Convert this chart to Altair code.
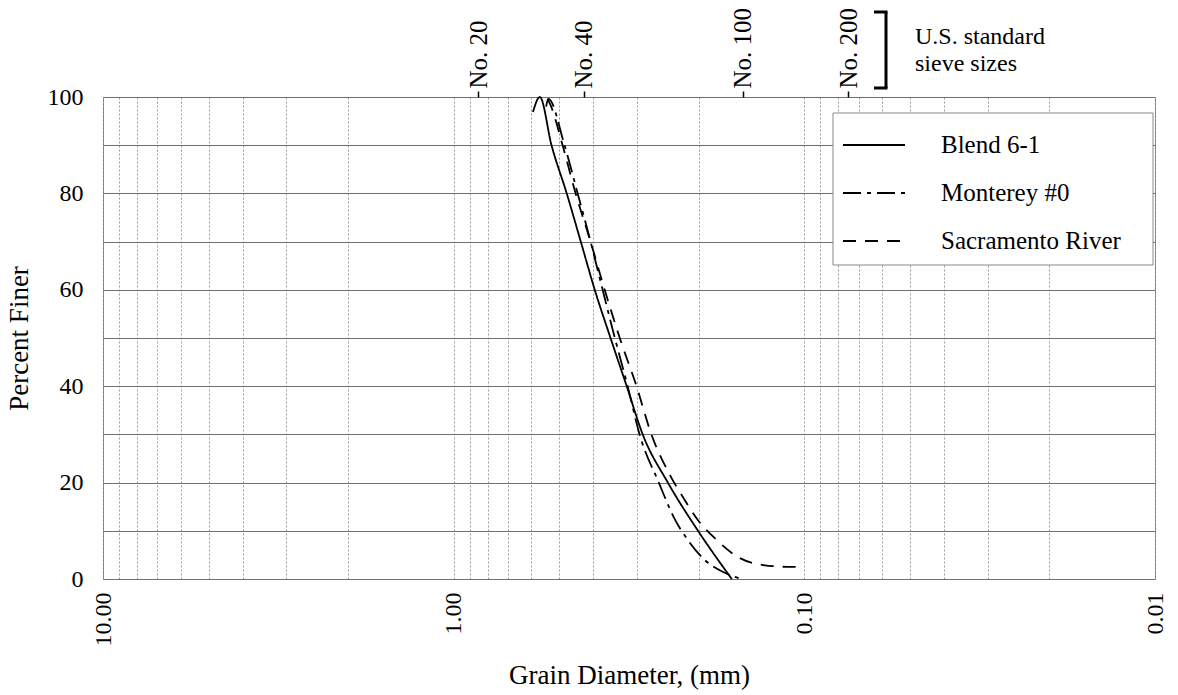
import altair as alt
import pandas as pd

# ---- data ----
series_names = ["Blend 6-1", "Monterey #0", "Sacramento River"]

blend_d = [0.594, 0.568, 0.526, 0.476, 0.434, 0.396, 0.357, 0.321, 0.289, 0.245, 0.201, 0.161]
blend_p = [96.9, 100, 90, 80, 70, 60, 50, 40, 30, 20, 10, 0]

monterey_d = [0.545, 0.537, 0.483, 0.443, 0.407, 0.376, 0.347, 0.319, 0.295, 0.260, 0.236, 0.215, 0.192, 0.171, 0.151]
monterey_p = [98.0, 99.6, 90, 80, 70, 60, 50, 40, 30, 20, 12.9, 8.1, 3.9, 1.5, 0]

sac_d = [0.540, 0.530, 0.489, 0.449, 0.407, 0.371, 0.336, 0.301, 0.273, 0.241, 0.222, 0.201, 0.179, 0.155, 0.131, 0.109, 0.104]
sac_p = [99.6, 98.4, 90, 80, 70, 60, 50, 40, 30, 21.4, 17, 12.2, 8.3, 4.6, 2.9, 2.5, 2.5]

grid_x = [10, 9, 8, 7, 6, 5, 4, 3, 2,
          1, 0.9, 0.8, 0.7, 0.6, 0.5, 0.4, 0.3, 0.2,
          0.1, 0.09, 0.08, 0.07, 0.06, 0.05, 0.04, 0.03, 0.02, 0.01]
grid_y = [0, 10, 20, 30, 40, 50, 60, 70, 80, 90, 100]

sieve_sizes = [0.85, 0.425, 0.15, 0.075]
sieve_names = ["No. 20", "No. 40", "No. 100", "No. 200"]
note_text = ["U.S. standard", "sieve sizes"]

FONT = "Liberation Serif"

rows = []
for name, ds, ps in zip(series_names, [blend_d, monterey_d, sac_d], [blend_p, monterey_p, sac_p]):
    for i, (d, p) in enumerate(zip(ds, ps)):
        rows.append({"series": name, "d": d, "p": p, "i": i})
df = pd.DataFrame(rows)

xscale = alt.Scale(type="log", domain=[0.01, 10], reverse=True)
yscale = alt.Scale(domain=[0, 100])

decade_expr = ("abs(log(datum.value)/LN10 - round(log(datum.value)/LN10)) < 0.001"
               " ? format(datum.value, '.2f') : ''")

sieve_expr = ""
for v, n in zip(sieve_sizes, sieve_names):
    sieve_expr += f"abs(datum.value - {v}) < 1e-6 ? '{n}' : "
sieve_expr += "''"

one = pd.DataFrame({"k": [0]})

legend_box = alt.Chart(one).mark_rect(fill="white", stroke="#888888", strokeWidth=1).encode(
    x=alt.value(730), x2=alt.value(1050), y=alt.value(16), y2=alt.value(168))

lines = alt.Chart(df).mark_line(color="black", strokeWidth=1.8, interpolate="monotone").encode(
    x=alt.X("d:Q", scale=xscale,
            axis=alt.Axis(values=grid_x, labelExpr=decade_expr, title="Grain Diameter, (mm)",
                          labelAngle=-90, grid=True, gridColor="#9a9a9a", gridDash=[2, 2],
                          gridWidth=1, ticks=False, domain=False, labelPadding=13,
                          titlePadding=16, labelFontSize=24, titleFontSize=27,
                          labelOverlap=False)),
    y=alt.Y("p:Q", scale=yscale,
            axis=alt.Axis(values=grid_y, labelExpr="datum.value % 20 == 0 ? datum.label : ''",
                          title="Percent Finer", grid=True, gridColor="#707070", gridWidth=1,
                          ticks=False, domain=False, labelPadding=20, titlePadding=14,
                          labelFontSize=24, titleFontSize=27)),
    strokeDash=alt.StrokeDash("series:N",
                              scale=alt.Scale(domain=series_names,
                                              range=[[1, 0], [18, 6, 4, 6], [13, 9]]),
                              legend=alt.Legend(title=None, orient="none", legendX=729, legendY=6,
                                                padding=10, symbolType="stroke", symbolSize=3844,
                                                symbolStrokeWidth=1.8, symbolStrokeColor="black",
                                                labelFontSize=25, labelFont=FONT, labelColor="black",
                                                labelOffset=35, rowPadding=3, labelLimit=400)),
    order="i:Q",
)

sieve = alt.Chart(pd.DataFrame({"d": sieve_sizes})).mark_tick(opacity=0).encode(
    x=alt.X("d:Q", scale=xscale,
            axis=alt.Axis(orient="top", values=sieve_sizes, labelExpr=sieve_expr, labelAngle=-90,
                          grid=False, domain=False, ticks=True, tickSize=6, tickColor="black",
                          tickWidth=1.5, labelPadding=3, title=None, labelFontSize=25))
)

bracket_v = alt.Chart(one).mark_rule(color="black", strokeWidth=3).encode(
    x=alt.value(783), y=alt.value(-85), y2=alt.value(-9))
bracket_t = alt.Chart(one).mark_rule(color="black", strokeWidth=3).encode(
    x=alt.value(771), x2=alt.value(784.5), y=alt.value(-85))
bracket_b = alt.Chart(one).mark_rule(color="black", strokeWidth=3).encode(
    x=alt.value(771), x2=alt.value(784.5), y=alt.value(-9))
note = alt.Chart(one).mark_text(text=note_text, align="left", baseline="middle", font=FONT,
                                fontSize=24, lineHeight=27, color="black").encode(
    x=alt.value(812), y=alt.value(-60))

chart = alt.layer(legend_box, lines, sieve, bracket_v, bracket_t, bracket_b, note).resolve_axis(
    x="independent"
).properties(
    width=1052, height=482,
    autosize=alt.AutoSizeParams(type="none"),
    padding={"left": 103, "top": 97, "right": 23, "bottom": 116},
).configure(font=FONT).configure_axis(
    labelFont=FONT, titleFont=FONT, labelColor="black", titleColor="black", titleFontWeight="normal"
).configure_view(stroke="#777777")

chart.save("out.html", embed_options={"renderer": "svg", "actions": False})
